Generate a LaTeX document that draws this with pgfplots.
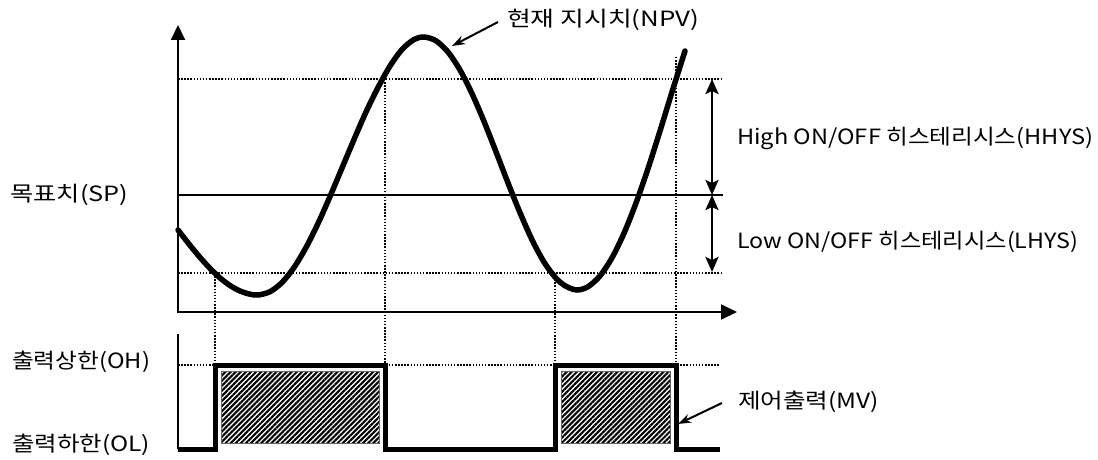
\documentclass[border=0pt]{standalone}
\usepackage{fontspec}
\setmainfont{Noto Sans CJK KR}
\usepackage{pgfplots}
\pgfplotsset{compat=1.18}
\usetikzlibrary{arrows.meta,patterns.meta}
\newlength\lblw
\newcommand\fitto[2]{\settowidth{\lblw}{#2}\pgfmathsetmacro\fr{#1/\lblw}\scalebox{\fr}[1]{#2}}
\tikzset{
  lbl/.style={anchor=west,inner sep=0pt,font=\fontsize{21}{25}\selectfont},
  dotl/.style={line width=1.5pt,dash pattern=on 1.5pt off 1.6pt,black},
  hatch/.style={draw=black!60,line width=0.7pt,pattern={Lines[angle=45,distance=3.6pt,line width=2.1pt]}},
}
\begin{document}
\begin{tikzpicture}
\begin{axis}[
  width=1098pt, height=460pt, scale only axis,
  xmin=0, xmax=1098, ymin=0, ymax=460, y dir=reverse,
  hide axis, clip=false,
]
\coordinate (bbA) at (rel axis cs:0,0);
\coordinate (bbB) at (rel axis cs:1,1);
% dotted reference lines
\addplot[dotl] coordinates {(178,79) (723,79)};
\addplot[dotl] coordinates {(178,273) (723,273)};
\addplot[dotl] coordinates {(178,365) (720,365)};
\addplot[dotl] coordinates {(215,273) (215,365)};
\addplot[dotl] coordinates {(385,79) (385,365)};
\addplot[dotl] coordinates {(555,273) (555,365)};
\addplot[dotl] coordinates {(676,57) (676,365)};
% set point
\addplot[line width=1.8pt] coordinates {(178,195) (723,195)};
% axes
\addplot[line width=2pt,-{Triangle[length=15pt,width=14pt]}] coordinates {(178,313) (178,25)};
\addplot[line width=2pt,-{Triangle[length=16pt,width=15pt]}] coordinates {(177,312) (737,312)};
\addplot[line width=2pt] coordinates {(178,334) (178,449)};
% hysteresis arrows
\addplot[line width=2.6pt,{Stealth[length=15pt,width=13pt,inset=3pt]}-{Stealth[length=15pt,width=13pt,inset=3pt]}] coordinates {(712,79) (712,195)};
\addplot[line width=2.6pt,{Stealth[length=15pt,width=13pt,inset=3pt]}-{Stealth[length=15pt,width=13pt,inset=3pt]}] coordinates {(712,195) (712,272)};
% hatched output areas
\addplot[hatch] coordinates {(221,371) (379,371) (379,443) (221,443)} --cycle;
\addplot[hatch] coordinates {(561,371) (670,371) (670,443) (561,443)} --cycle;
% control output MV
\addplot[line width=5pt,line join=miter] coordinates {(178,449) (215,449) (215,365) (385,365) (385,449) (555,449) (555,365) (676,365) (676,449) (720,449)};
% process value NPV
\addplot[line width=5.5pt,smooth,line cap=round] coordinates {
(178,230) (190,245.3) (200,257.4) (210,268.4) (220,277.9) (230,285.5) (240,291.0) (250,294.2) (258,295)
(270,291.7) (282,282.5) (294,267.5) (306,247.5) (318,223.5) (330,196.5) (342,168) (354,139.5) (366,112) (378,87.5) (390,66) (402,49.5) (414,39.5) (424,37)
(436,40.8) (448,52.0) (460,70.0) (472,93.6) (484,121.4) (496,151.8) (508,182.9) (520,212.7) (532,239.7) (544,262.0) (556,278.2) (566,286.3) (577,290)
(588,286.7) (600,275.9) (612,257.8) (624,233.2) (636,203.0) (648,168.6) (660,131.0) (672,92) (685,51)
};
% annotation arrows
\addplot[line width=2pt,-{Stealth[length=13pt,width=9pt]}] coordinates {(498,22) (452,46)};
\addplot[line width=2pt,-{Stealth[length=13pt,width=9pt]}] coordinates {(722,403) (678,424)};
% labels
\node[lbl] at (axis cs:507,20) {\fitto{192}{현재 지시치(NPV)}};
\node[lbl] at (axis cs:737,138) {\fitto{356}{High ON/OFF 히스테리시스(HHYS)}};
\node[lbl] at (axis cs:737,242) {\fitto{341}{Low ON/OFF 히스테리시스(LHYS)}};
\node[lbl] at (axis cs:10,195) {\fitto{118}{목표치(SP)}};
\node[lbl] at (axis cs:12,362) {\fitto{138}{출력상한(OH)}};
\node[lbl] at (axis cs:12,445) {\fitto{138}{출력하한(OL)}};
\node[lbl] at (axis cs:738,402) {\fitto{141}{제어출력(MV)}};
\end{axis}
\pgfresetboundingbox
\useasboundingbox (bbA) rectangle (bbB);
\end{tikzpicture}
\end{document}
